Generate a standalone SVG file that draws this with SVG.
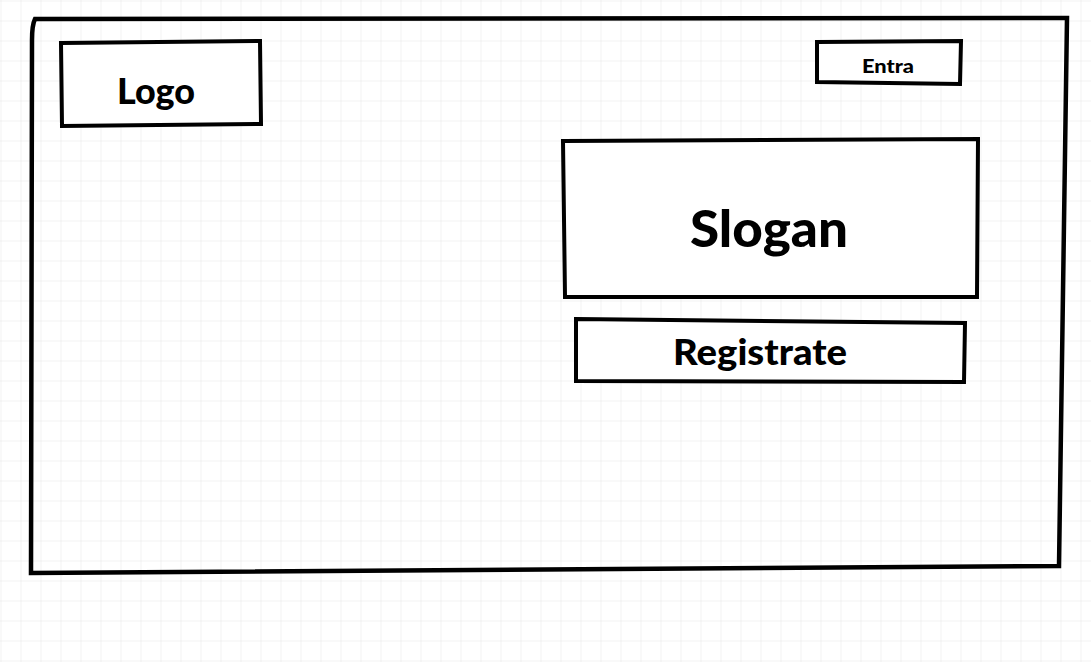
<svg xmlns="http://www.w3.org/2000/svg" width="1091" height="662" viewBox="0 0 1091 662">
<defs>
<pattern id="grid" width="20" height="20" patternUnits="userSpaceOnUse" x="0.5" y="0.5">
<path d="M20 0 L0 0 L0 20" fill="none" stroke="#e6e6e6" stroke-width="1"/>
</pattern>
<style>
.box{fill:#fff;stroke:#000;stroke-width:4;stroke-linejoin:miter}
.frame{fill:none;stroke:#000;stroke-width:4.5;stroke-linejoin:miter}
.lbl{font-family:"Lato","Open Sans",sans-serif;font-weight:900;fill:#000;text-anchor:middle}
</style>
</defs>
<rect width="1091" height="662" fill="#fff"/>
<rect width="1091" height="662" fill="url(#grid)"/>
<g id="frame">
<path class="frame" d="M35 19 L1067 18 L1059 566 L31 573 L32 40 Q32 25 35 19 Z"/>
</g>
<g id="logo">
<path class="box" d="M61 43 L260 41 L261 124 L62 126 Z"/>
<text class="lbl" x="156" y="104" font-size="36" textLength="78" lengthAdjust="spacingAndGlyphs">Logo</text>
</g>
<g id="entra">
<path class="box" d="M817 42 L961 41 L960 84 L817 82 Z"/>
<text class="lbl" x="888" y="73" font-size="19" textLength="52" lengthAdjust="spacingAndGlyphs">Entra</text>
</g>
<g id="slogan">
<path class="box" d="M563 141 L978 139 L977 297 L565 297 Z"/>
<text class="lbl" x="769" y="247" font-size="52" textLength="158" lengthAdjust="spacingAndGlyphs">Slogan</text>
</g>
<g id="registrate">
<path class="box" d="M576 319 L965 323 L964 382 L576 381 Z"/>
<text class="lbl" x="760" y="365" font-size="36" textLength="174" lengthAdjust="spacingAndGlyphs">Registrate</text>
</g>
<g id="connectors"></g>
</svg>
